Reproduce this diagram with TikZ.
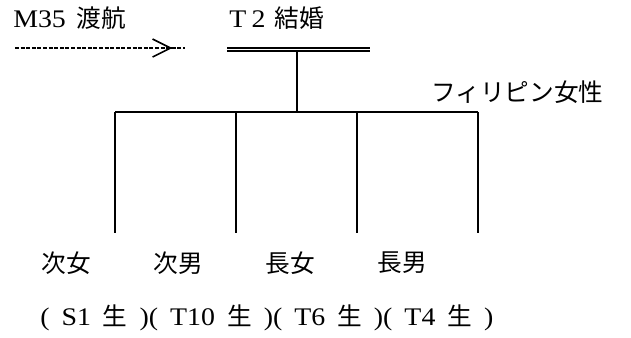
\documentclass[tikz,border=0pt]{standalone}
\usepackage{fontspec}
\setmainfont{Liberation Serif}[FakeStretch=1.1]
\newfontfamily\jpfont{Noto Sans CJK JP}
\newcommand{\jp}[1]{{\jpfont\fontsize{18.5}{22}\selectfont #1}}
\newcommand{\gap}{\hspace{9pt}}
\usetikzlibrary{arrows.meta,positioning,calc}
\tikzset{every node/.append style={align=center}}

\begin{document}
\begin{tikzpicture}[x=0.75pt, y=-0.75pt,
    lbl/.style={inner sep=0pt, font=\fontsize{19}{22}\selectfont},
    kin/.style={line width=1.5pt},
    migr/.style={line width=2pt, dash pattern=on 3pt off 1.2pt},
]
    \useasboundingbox (0,0) rectangle (631,337);

    % Headings
    \node[lbl, anchor=west] (m35) at (13, 18) {M35\hspace{8pt}\jp{渡航}};
    \node[lbl, anchor=west] (t2) at (229, 18) {T\hspace{4pt}2\hspace{7pt}\jp{結婚}};
    \node[lbl, anchor=west] (wife) at (431, 92) {\jp{フィリピン女性}};

    % Migration arrow
    \coordinate (mstart) at (15, 48);
    \coordinate (mtip) at (173, 48);
    \coordinate (mend) at (185, 48);
    \draw[migr] (mstart) -- (mend);
    \draw[line width=1.2pt, -{Straight Barb[length=13.5pt, width=13.5pt, line width=1.2pt]}, shorten >=0.5pt] ($(mtip)+(-1,0)$) -- (mtip);

    % Marriage
    \coordinate (mleft) at (227, 49.5);
    \coordinate (mright) at (370, 49.5);
    \coordinate (mmid) at (297, 51);
    \coordinate (bus) at (297, 112);
    \draw[line width=1.4pt, double distance=1.2pt] (mleft) -- (mright);
    \draw[kin] (mmid) -- (bus);

    % Children
    \coordinate (c1) at (115, 112);
    \coordinate (c2) at (236, 112);
    \coordinate (c3) at (357, 112);
    \coordinate (c4) at (478, 112);
    \draw[kin] (c1) -- (c4);
    \foreach \c in {c1, c2, c3, c4}
        \draw[kin] (\c) -- ++(0, 121);

    \node[lbl] (d2) at (66, 263) {\jp{次女}};
    \node[lbl] (s2) at (178, 263) {\jp{次男}};
    \node[lbl] (d1) at (290, 263) {\jp{長女}};
    \node[lbl] (s1) at (402, 263) {\jp{長男}};

    \node[lbl, anchor=west] (born) at (40, 318)
        {(\gap S1\gap\jp{生}\gap)(\gap T10\gap\jp{生}\gap)(\gap T6\gap\jp{生}\gap)(\gap T4\gap\jp{生}\gap)};
\end{tikzpicture}
\end{document}
